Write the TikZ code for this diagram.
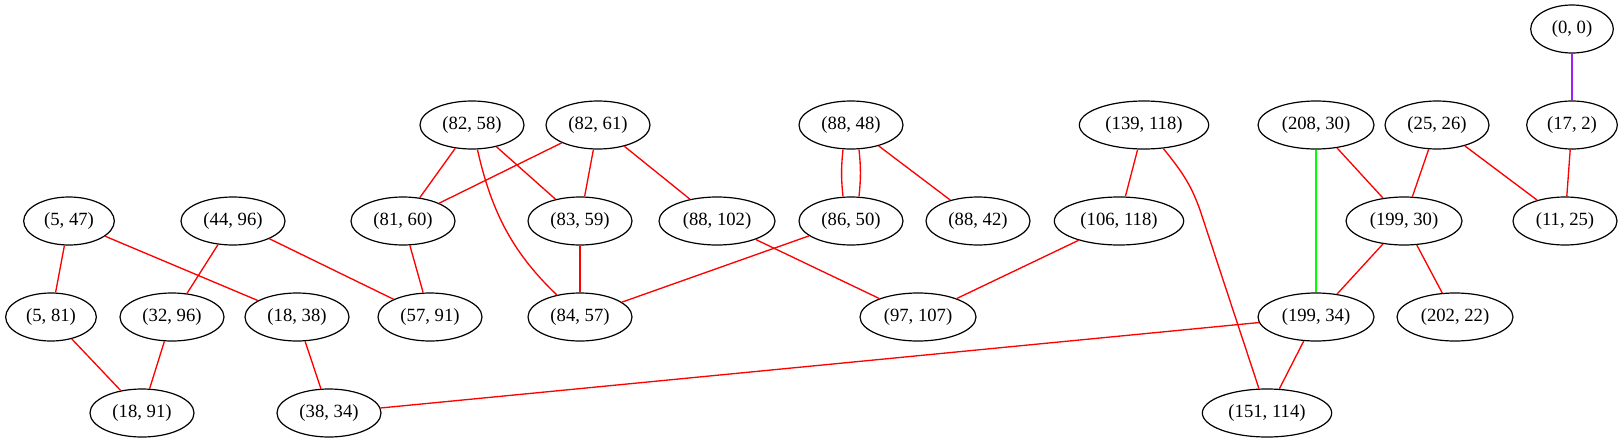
\documentclass[tikz,border=0pt]{standalone}
\usepackage{fontspec}
\setmainfont{Liberation Serif}
\usetikzlibrary{shapes.geometric}
\definecolor{gvpurple}{HTML}{A020F0}
\definecolor{gvgreen}{HTML}{00FF00}
\begin{document}
\begin{tikzpicture}[x=0.75pt,y=-0.75pt,
  nd/.style={draw, ellipse, line width=0.9pt, inner sep=0pt, minimum height=36pt, font=\fontsize{14}{16}\selectfont},
  wa/.style={minimum width=62pt},
  wb/.style={minimum width=68pt},
  wc/.style={minimum width=78pt},
  wd/.style={minimum width=87pt},
  we/.style={minimum width=97pt},
  edge/.style={red, line width=1pt}]
\useasboundingbox (0,0) rectangle (1624,443);
% row 1
\node[nd,wa] (a00) at (1572,29) {(0, 0)};
% row 2
\node[nd,wb] (a172) at (1572,125) {(17, 2)};
\node[nd,wc] (a2526) at (1437,125) {(25, 26)};
\node[nd,wd] (a20830) at (1316,125) {(208, 30)};
\node[nd,we] (a139118) at (1144,125) {(139, 118)};
\node[nd,wc] (a8848) at (851,125) {(88, 48)};
\node[nd,wc] (a8261) at (598,125) {(82, 61)};
\node[nd,wc] (a8258) at (472,125) {(82, 58)};
% row 3
\node[nd,wb] (a547) at (69,221) {(5, 47)};
\node[nd,wc] (a4496) at (233,221) {(44, 96)};
\node[nd,wc] (a8160) at (403,221) {(81, 60)};
\node[nd,wc] (a8359) at (580,221) {(83, 59)};
\node[nd,wd] (a88102) at (717,221) {(88, 102)};
\node[nd,wc] (a8650) at (851,221) {(86, 50)};
\node[nd,wc] (a8842) at (978,221) {(88, 42)};
\node[nd,we] (a106118) at (1119,221) {(106, 118)};
\node[nd,wd] (a19930) at (1404,221) {(199, 30)};
\node[nd,wc] (a1125) at (1565,221) {(11, 25)};
% row 4
\node[nd,wb] (a581) at (51,317) {(5, 81)};
\node[nd,wc] (a3296) at (172,317) {(32, 96)};
\node[nd,wc] (a1838) at (297,317) {(18, 38)};
\node[nd,wc] (a5791) at (430,317) {(57, 91)};
\node[nd,wc] (a8457) at (580,317) {(84, 57)};
\node[nd,wd] (a97107) at (918,317) {(97, 107)};
\node[nd,wd] (a19934) at (1316,317) {(199, 34)};
\node[nd,wd] (a20222) at (1455,317) {(202, 22)};
% row 5
\node[nd,wc] (a1891) at (142,413) {(18, 91)};
\node[nd,wc] (a3834) at (329,413) {(38, 34)};
\node[nd,we] (a151114) at (1267,413) {(151, 114)};
% edges
\draw[gvpurple, line width=1pt] (a00) -- (a172);
\draw[edge] (a172) -- (a1125);
\draw[edge] (a2526) -- (a1125);
\draw[edge] (a2526) -- (a19930);
\draw[edge] (a20830) -- (a19930);
\draw[gvgreen, line width=1pt] (a20830) -- (a19934);
\draw[edge] (a19930) -- (a19934);
\draw[edge] (a19930) -- (a20222);
\draw[edge] (a19934) -- (a151114);
\draw[edge] (a19934) -- (a3834);
\draw[edge] (a139118) -- (a106118);
\draw[edge] (a139118) .. controls (1185,175) and (1192,188) .. (1200,210) -- (a151114);
\draw[edge] (a106118) -- (a97107);
\draw[edge] (a88102) -- (a97107);
\draw[edge] ([xshift=-6pt]a8848.south) to[bend right=6] ([xshift=-6pt]a8650.north);
\draw[edge] ([xshift=6pt]a8848.south) to[bend left=6] ([xshift=6pt]a8650.north);
\draw[edge] (a8848) -- (a8842);
\draw[edge] (a8650) -- (a8457);
\draw[edge] (a8261) -- (a8160);
\draw[edge] (a8261) -- (a8359);
\draw[edge] (a8261) -- (a88102);
\draw[edge] (a8258) -- (a8160);
\draw[edge] (a8258) -- (a8359);
\draw[edge] (a8258) .. controls (492,215) and (515,255) .. (a8457);
\draw[edge] (a8359) -- (a8457);
\draw[edge] (a8160) -- (a5791);
\draw[edge] (a4496) -- (a5791);
\draw[edge] (a4496) -- (a3296);
\draw[edge] (a547) -- (a581);
\draw[edge] (a547) -- (a1838);
\draw[edge] (a581) -- (a1891);
\draw[edge] (a3296) -- (a1891);
\draw[edge] (a1838) -- (a3834);
\end{tikzpicture}
\end{document}
